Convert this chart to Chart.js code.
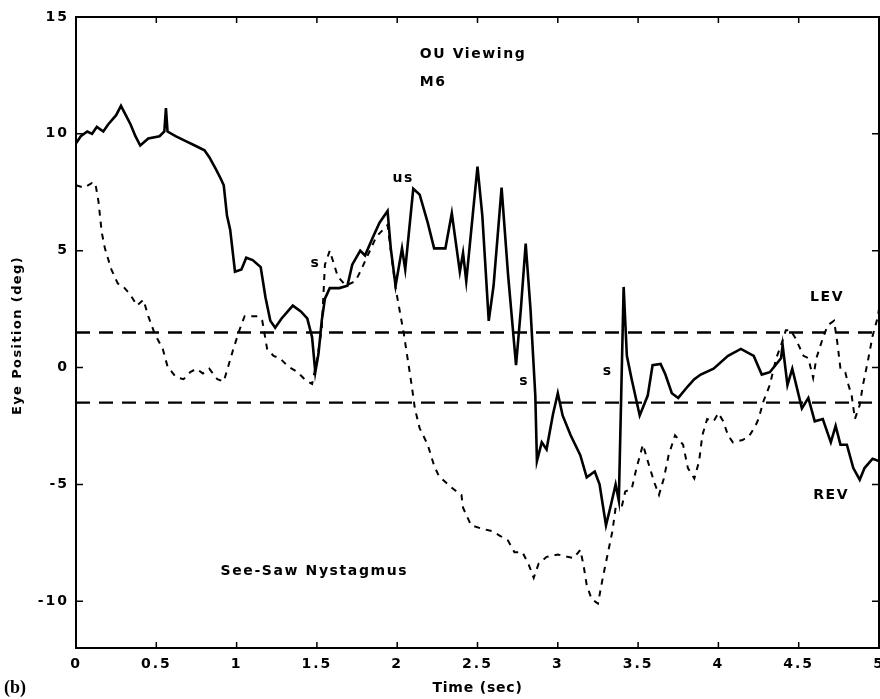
<!DOCTYPE html>
<html>
<head>
<meta charset="utf-8">
<script src="https://cdn.jsdelivr.net/npm/chart.js@4.4.1/dist/chart.umd.min.js"></script>
<style>
	html, body { margin: 0; padding: 0; background: #fff; }
</style>
</head>
<body>
<canvas id="eyeChart" width="880" height="699"></canvas>
<script>

/* ==========================
   DATA
========================== */

const revTime = [
	0.00, 0.03, 0.07, 0.10, 0.13, 0.17, 0.20, 0.25, 0.28, 0.31, 0.34, 0.37, 0.40, 0.45, 0.52, 0.55, 0.56, 0.57,
	0.62, 0.68, 0.74, 0.80, 0.83, 0.87, 0.90, 0.92, 0.94, 0.96, 0.99, 1.03, 1.06, 1.10, 1.15, 1.18, 1.21, 1.24,
	1.28, 1.35, 1.40, 1.44, 1.47, 1.49, 1.51, 1.53, 1.55, 1.58, 1.64, 1.69, 1.72, 1.77, 1.80, 1.85, 1.89, 1.94,
	1.96, 1.99, 2.03, 2.05, 2.10, 2.14, 2.19, 2.23, 2.30, 2.34, 2.37, 2.39, 2.41, 2.43, 2.47, 2.50, 2.53, 2.57,
	2.60, 2.65, 2.69, 2.74, 2.77, 2.80, 2.83, 2.86, 2.87, 2.90, 2.93, 2.97, 3.00, 3.03, 3.08, 3.14, 3.18, 3.23,
	3.26, 3.30, 3.33, 3.36, 3.38, 3.41, 3.43, 3.46, 3.51, 3.56, 3.59, 3.64, 3.67, 3.71, 3.75, 3.81, 3.85, 3.89,
	3.97, 4.06, 4.14, 4.22, 4.27, 4.32, 4.39, 4.40, 4.43, 4.46, 4.49, 4.52, 4.56, 4.60, 4.65, 4.70, 4.73, 4.76,
	4.80, 4.84, 4.88, 4.91, 4.96, 5.00
];

const revPos = [
	9.6, 9.9, 10.1, 10.0, 10.3, 10.1, 10.4, 10.8, 11.2, 10.8, 10.4, 9.9, 9.5, 9.8, 9.9, 10.1, 11.1, 10.1,
	9.9, 9.7, 9.5, 9.3, 9.0, 8.5, 8.1, 7.8, 6.5, 5.9, 4.1, 4.2, 4.7, 4.6, 4.3, 3.0, 2.0, 1.7,
	2.1, 2.65, 2.4, 2.1, 1.3, -0.2, 0.6, 2.0, 2.95, 3.4, 3.4, 3.5, 4.4, 5.0, 4.8, 5.6, 6.2, 6.7,
	5.1, 3.5, 5.1, 4.2, 7.65, 7.4, 6.2, 5.1, 5.1, 6.6, 5.1, 4.1, 4.9, 3.7, 6.5, 8.6, 6.5, 2.0,
	3.5, 7.7, 4.0, 0.1, 2.5, 5.3, 2.5, -1.2, -4.0, -3.2, -3.5, -2.0, -1.1, -2.05, -2.9, -3.75, -4.7, -4.45,
	-5.0, -6.75, -5.9, -5.0, -5.7, 3.45, 0.5, -0.5, -2.05, -1.2, 0.1, 0.15, -0.3, -1.1, -1.3, -0.8, -0.5, -0.3,
	-0.05, 0.5, 0.8, 0.5, -0.3, -0.2, 0.4, 0.95, -0.75, -0.05, -0.9, -1.75, -1.3, -2.3, -2.2, -3.2, -2.5, -3.3,
	-3.3, -4.3, -4.8, -4.3, -3.9, -4.0
];

const levTime = [
	0.00, 0.05, 0.10, 0.12, 0.14, 0.16, 0.18, 0.22, 0.26, 0.29, 0.34, 0.38, 0.42, 0.45, 0.49, 0.54, 0.57, 0.62,
	0.67, 0.71, 0.75, 0.79, 0.83, 0.88, 0.92, 0.95, 0.98, 1.02, 1.05, 1.13, 1.16, 1.19, 1.23, 1.27, 1.32, 1.38,
	1.43, 1.47, 1.50, 1.53, 1.55, 1.58, 1.63, 1.68, 1.74, 1.77, 1.87, 1.94, 1.99, 2.04, 2.09, 2.11, 2.14, 2.19,
	2.23, 2.26, 2.30, 2.35, 2.40, 2.41, 2.46, 2.53, 2.59, 2.64, 2.69, 2.73, 2.78, 2.82, 2.85, 2.88, 2.93, 3.00,
	3.06, 3.10, 3.14, 3.16, 3.18, 3.21, 3.25, 3.28, 3.31, 3.34, 3.36, 3.40, 3.42, 3.46, 3.49, 3.53, 3.56, 3.60,
	3.63, 3.66, 3.69, 3.73, 3.78, 3.81, 3.85, 3.88, 3.90, 3.93, 3.97, 4.00, 4.03, 4.06, 4.09, 4.15, 4.19, 4.23,
	4.25, 4.28, 4.32, 4.36, 4.39, 4.42, 4.45, 4.48, 4.50, 4.53, 4.56, 4.59, 4.61, 4.65, 4.68, 4.72, 4.74, 4.76,
	4.79, 4.81, 4.83, 4.85, 4.88, 4.90, 4.93, 4.96, 4.99, 5.00
];

const levPos = [
	7.8, 7.7, 7.9, 7.9, 7.1, 5.8, 5.1, 4.2, 3.6, 3.5, 3.1, 2.65, 2.9, 2.2, 1.45, 0.8, 0.05, -0.4,
	-0.5, -0.2, -0.05, -0.25, -0.05, -0.5, -0.6, 0.1, 0.8, 1.65, 2.2, 2.2, 2.0, 0.8, 0.5, 0.4, 0.05, -0.2,
	-0.55, -0.7, 0.3, 1.65, 4.4, 5.0, 3.9, 3.5, 3.7, 4.1, 5.6, 6.1, 3.4, 1.5, -0.75, -1.75, -2.6, -3.3,
	-4.2, -4.65, -4.9, -5.2, -5.45, -6.0, -6.75, -6.9, -7.0, -7.2, -7.4, -7.9, -7.9, -8.45, -9.0, -8.4, -8.1, -8.0,
	-8.1, -8.15, -7.8, -8.45, -9.3, -9.9, -10.1, -9.0, -8.0, -7.0, -6.0, -5.9, -5.3, -5.2, -4.3, -3.3, -4.0, -4.9,
	-5.45, -4.75, -3.75, -2.9, -3.3, -4.3, -4.75, -4.0, -2.9, -2.2, -2.3, -1.95, -2.3, -2.9, -3.2, -3.1, -2.95, -2.5,
	-2.2, -1.45, -0.75, 0.4, 0.95, 1.6, 1.6, 1.25, 0.95, 0.5, 0.4, -0.45, 0.4, 1.25, 1.8, 2.0, 1.1, -0.05,
	-0.2, -0.75, -1.2, -2.2, -1.6, -0.75, 0.25, 1.35, 2.1, 2.5
];

const limitLevels = [1.5, -1.5];
const timeRange = [0, 5];

const xTickValues = [0, 0.5, 1, 1.5, 2, 2.5, 3, 3.5, 4, 4.5, 5];
const yTickValues = [-10, -5, 0, 5, 10, 15];

const xTitle = "Time (sec)";
const yTitle = "Eye Position (deg)";

/* notes written on the plot, placed in data units */
const plotNotes = [
	{ text: "OU Viewing", x: 2.14, y: 13.4 },
	{ text: "M6", x: 2.14, y: 12.2 },
	{ text: "us", x: 1.97, y: 8.1 },
	{ text: "s", x: 1.46, y: 4.45 },
	{ text: "s", x: 2.76, y: -0.6 },
	{ text: "s", x: 3.28, y: -0.15 },
	{ text: "LEV", x: 4.57, y: 3.0 },
	{ text: "REV", x: 4.59, y: -5.45 },
	{ text: "See-Saw Nystagmus", x: 0.90, y: -8.7 }
];

/* ==========================
   HELPERS
========================== */

const toPoints = (xs, ys) => xs.map((x, i) => ({ x: x, y: ys[i] }));

const fontFamily = "'DejaVu Sans', Verdana, sans-serif";
const tickFont = { family: fontFamily, size: 14, weight: "bold" };

const framePlugin = {
	id: "frameAndNotes",
	beforeDraw(chart) {
		chart.ctx.letterSpacing = "2px";
	},
	afterDraw(chart) {
		const { ctx, chartArea, scales } = chart;
		const { left, right, top, bottom } = chartArea;

		ctx.save();
		ctx.strokeStyle = "#000";
		ctx.lineWidth = 2;
		ctx.strokeRect(left, top, right - left, bottom - top);

		/* inward tick marks on all four sides */
		ctx.lineWidth = 1.5;
		ctx.beginPath();
		xTickValues.forEach((v) => {
			const px = scales.x.getPixelForValue(v);
			ctx.moveTo(px, bottom);
			ctx.lineTo(px, bottom - 6);
			ctx.moveTo(px, top);
			ctx.lineTo(px, top + 6);
		});
		yTickValues.forEach((v) => {
			const py = scales.y.getPixelForValue(v);
			ctx.moveTo(left, py);
			ctx.lineTo(left + 7, py);
			ctx.moveTo(right, py);
			ctx.lineTo(right - 7, py);
		});
		ctx.stroke();

		/* notes */
		ctx.fillStyle = "#000";
		ctx.font = "bold 14px " + fontFamily;
		ctx.letterSpacing = "1.6px";
		ctx.textAlign = "left";
		ctx.textBaseline = "middle";
		plotNotes.forEach((note) => {
			ctx.fillText(note.text, scales.x.getPixelForValue(note.x), scales.y.getPixelForValue(note.y));
		});

		/* axis titles */
		ctx.textAlign = "center";
		ctx.letterSpacing = "0.8px";
		ctx.font = "bold 14px " + fontFamily;
		ctx.fillText(xTitle, (left + right) / 2, 688);

		ctx.save();
		ctx.translate(18, (top + bottom) / 2 + 3);
		ctx.rotate(-Math.PI / 2);
		ctx.letterSpacing = "1.4px";
		ctx.font = "bold 13px " + fontFamily;
		ctx.fillText(yTitle, 0, 0);
		ctx.restore();

		/* panel letter */
		ctx.textAlign = "left";
		ctx.letterSpacing = "0px";
		ctx.font = "bold 18px 'Liberation Serif', 'Times New Roman', serif";
		ctx.fillText("(b)", 4, 688);
		ctx.restore();
	}
};

/* ==========================
   CHART
========================== */

const canvas = document.getElementById("eyeChart");

new Chart(canvas, {
	type: "line",

	data: {
		datasets: [
			{
				label: "REV",
				data: toPoints(revTime, revPos),
				borderColor: "#000",
				borderWidth: 2.6,
				pointRadius: 0,
				tension: 0
			},
			{
				label: "LEV",
				data: toPoints(levTime, levPos),
				borderColor: "#000",
				borderWidth: 2,
				borderDash: [6, 6],
				pointRadius: 0,
				tension: 0
			},
			...limitLevels.map((level) => ({
				label: "limit " + level,
				data: toPoints(timeRange, [level, level]),
				borderColor: "#000",
				borderWidth: 2.4,
				borderDash: [14, 9],
				pointRadius: 0
			}))
		]
	},

	options: {
		responsive: false,
		animation: false,
		devicePixelRatio: 1,

		layout: {
			padding: { top: 17, right: 1, left: 0, bottom: 0 }
		},

		plugins: {
			legend: { display: false },
			tooltip: { enabled: false }
		},

		scales: {
			x: {
				type: "linear",
				min: 0,
				max: 5,
				afterBuildTicks: (scale) => {
					scale.ticks = xTickValues.map((v) => ({ value: v }));
				},
				afterFit: (scale) => {
					scale.height = 51;
					scale.paddingLeft = 0;
					scale.paddingRight = 0;
				},
				grid: { display: false, drawTicks: false },
				border: { display: false },
				ticks: {
					color: "#000",
					font: tickFont,
					padding: 8,
					maxRotation: 0,
					autoSkip: false,
					callback: (v) => String(v)
				}
			},
			y: {
				min: -12,
				max: 15,
				afterBuildTicks: (scale) => {
					scale.ticks = yTickValues.map((v) => ({ value: v }));
				},
				afterFit: (scale) => {
					scale.width = 76;
				},
				grid: { display: false, drawTicks: false },
				border: { display: false },
				ticks: {
					color: "#000",
					font: tickFont,
					padding: 7,
					callback: (v) => String(v)
				}
			}
		}
	},

	plugins: [framePlugin]
});
</script>
</body>
</html>
